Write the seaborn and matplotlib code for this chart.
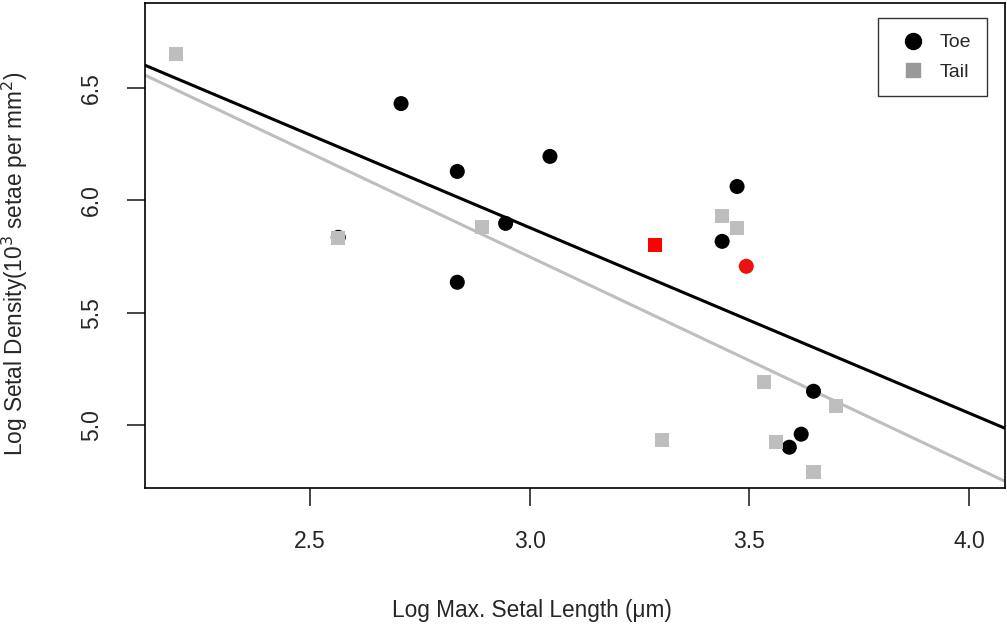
import numpy as np
import pandas as pd
import matplotlib
matplotlib.use("Agg")
import matplotlib.pyplot as plt
import seaborn as sns
from matplotlib.lines import Line2D

# ── data ────────────────────────────────────────────────
toe_x = [2.564, 2.707, 2.835, 2.835, 2.945, 3.046, 3.438, 3.472, 3.493, 3.646, 3.618, 3.591]
toe_y = [5.836, 6.431, 6.129, 5.636, 5.898, 6.196, 5.818, 6.062, 5.707, 5.151, 4.960, 4.902]
toe_red = [False, False, False, False, False, False, False, False, True, False, False, False]

tail_x = [2.195, 2.564, 2.892, 3.286, 3.302, 3.438, 3.472, 3.534, 3.561, 3.646, 3.698]
tail_y = [6.653, 5.831, 5.884, 5.800, 4.933, 5.929, 5.876, 5.191, 4.924, 4.791, 5.084]
tail_red = [False, False, False, True, False, False, False, False, False, False, False]

# fitted lines (intercept, slope)
toe_fit = (8.354, -0.825)
tail_fit = (8.518, -0.923)

toe = pd.DataFrame({"x": toe_x, "y": toe_y, "red": toe_red})
tail = pd.DataFrame({"x": tail_x, "y": tail_y, "red": tail_red})

sns.set_style("white")
plt.rcParams['font.family'] = ['Liberation Sans', 'DejaVu Sans']

fig = plt.figure(figsize=(10.07, 6.25), dpi=100)
ax = fig.add_axes([0.144, 0.219, 0.854, 0.776])

xlim = (2.124, 4.082)
ax.set_xlim(*xlim)
ax.set_ylim(4.72, 6.878)

# regression lines across the full panel
xs = np.array(xlim)
ax.plot(xs, toe_fit[0] + toe_fit[1] * xs, color="black", lw=2.2, zorder=2)
ax.plot(xs, tail_fit[0] + tail_fit[1] * xs, color="#bebebe", lw=2.2, zorder=2)

sns.scatterplot(data=toe, x="x", y="y", hue="red", palette={False: "black", True: "#ee1111"},
                marker="o", s=117, edgecolor="none", legend=False, ax=ax, zorder=3)
sns.scatterplot(data=tail, x="x", y="y", hue="red", palette={False: "#bebebe", True: "#ff0000"},
                marker="s", s=102, edgecolor="none", legend=False, ax=ax, zorder=4)

ax.set_xticks([2.5, 3.0, 3.5, 4.0])
ax.set_yticks([5.0, 5.5, 6.0, 6.5])
ax.set_xticklabels(["2.5", "3.0", "3.5", "4.0"])
ax.set_yticklabels(["5.0", "5.5", "6.0", "6.5"], rotation=90, va="center")
ax.tick_params(axis="both", direction="out", length=13, width=1.2, labelsize=16.5,
               left=True, bottom=True)
ax.tick_params(axis="x", pad=17)
ax.tick_params(axis="y", pad=17)
for sp in ax.spines.values():
    sp.set_color("black")
    sp.set_linewidth(1.2)
ax.set_xlabel("")
ax.set_ylabel("")

fig.text(532 / 1007, 1 - 610 / 625, "Log Max. Setal Length (μm)", fontsize=16.3,
         ha="center", va="center")
fig.text(15 / 1007, 1 - 264 / 625, "Log Setal Density(10$^3$ setae per mm$^2$)", fontsize=16.3,
         ha="center", va="center", rotation=90)

handles = [
    Line2D([], [], marker="o", color="black", ls="none", markersize=11.5, label="Toe"),
    Line2D([], [], marker="s", color="#999999", ls="none", markersize=9.5, label="Tail"),
]
leg = ax.legend(handles=handles, loc="upper right", bbox_to_anchor=(0.979, 0.969),
                fontsize=14, frameon=True, fancybox=False, borderpad=0.8,
                handletextpad=0.4, labelspacing=0.6, borderaxespad=0)
leg.get_frame().set_edgecolor("black")
leg.get_frame().set_linewidth(1.0)

fig.savefig("out.png", dpi=100)
